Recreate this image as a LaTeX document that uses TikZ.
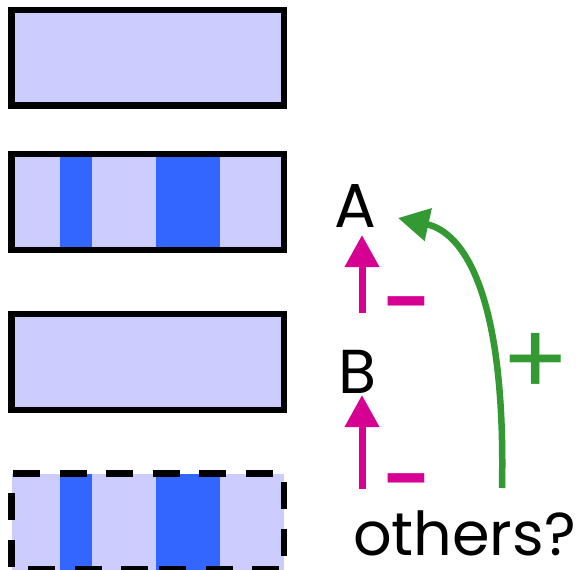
\documentclass[tikz,border=0pt]{standalone}
\usepackage{fontspec}
\setmainfont{Poppins}
\usetikzlibrary{arrows.meta}
\definecolor{lav}{RGB}{204,204,255}
\definecolor{stripecol}{RGB}{51,102,255}
\definecolor{mag}{RGB}{214,0,147}
\definecolor{grn}{RGB}{51,153,51}
\begin{document}
\begin{tikzpicture}[x=1pt,y=-1pt,
  boxnode/.style={rectangle,minimum width=272.5pt,minimum height=96pt,inner sep=0pt,outer sep=0pt,fill=lav},
  solidborder/.style={line width=6.5pt},
  dashborder/.style={line width=6.5pt,dash pattern=on 27pt off 19.5pt},
  stripefill/.style={fill=stripecol},
  lbl/.style={inner sep=0pt,outer sep=0pt,font=\fontsize{62}{62}\selectfont},
  otherslbl/.style={inner sep=0pt,outer sep=0pt,font=\fontsize{60.5}{60.5}\selectfont},
  signlbl/.style={inner sep=0pt,outer sep=0pt,font=\bfseries\fontsize{66}{66}\selectfont},
  pluslbl/.style={inner sep=0pt,outer sep=0pt,font=\fontsize{100}{100}\selectfont},
  magarrow/.style={draw=mag,line width=7pt,-{Triangle[width=33pt,length=32pt]}},
  grnarrow/.style={draw=grn,line width=6.5pt,-{Triangle[width=32pt,length=31pt]}}]
\useasboundingbox (0,0) rectangle (581,570);
% boxes
\node[boxnode,draw,solidborder,minimum height=95.5pt] (r1) at (147.75,57.75) {};
\node[boxnode] (r2) at (147.75,202) {};
\fill[stripefill] ([xshift=48.5pt]r2.north west) rectangle ([xshift=80.5pt]r2.south west);
\fill[stripefill] ([xshift=144.5pt]r2.north west) rectangle ([xshift=208.5pt]r2.south west);
\draw[solidborder] (r2.north west) rectangle (r2.south east);
\node[boxnode,draw,solidborder] (r3) at (147.75,362) {};
\node[boxnode] (r4) at (147.75,521.5) {};
\fill[stripefill] ([xshift=48.5pt]r4.north west) rectangle ([xshift=80.5pt]r4.south west);
\fill[stripefill] ([xshift=144.5pt]r4.north west) rectangle ([xshift=208.5pt]r4.south west);
\draw[dashborder,dash phase=45pt] (r4.north west) -- (r4.north east);
\draw[dashborder,dash phase=27pt] (r4.north west) -- (r4.south west);
\draw[dashborder,dash phase=38pt] (r4.north east) -- (r4.south east);
\draw[dashborder,dash phase=30pt] (r4.south west) -- (r4.south);
\draw[dashborder,dash phase=41.5pt] (r4.south east) -- (r4.south);
% labels
\node[lbl,anchor=base] (A) at (355,227) {A};
\node[lbl,anchor=base] (B) at (357,393) {B};
\node[otherslbl,anchor=base west] (O) at (353,555) {others?};
\node[signlbl,text=mag] (m1) at (406,311) {–};
\node[signlbl,text=mag] (m2) at (406,488) {–};
\node[pluslbl,text=grn] (p1) at (536,364) {+};
% arrows
\draw[magarrow] ([xshift=5pt,yshift=80pt]B.base) -- ([xshift=7pt,yshift=-8pt]A.base);
\draw[magarrow] ([xshift=9pt,yshift=66pt]O.base west) -- ([xshift=5pt,yshift=-2pt]B.base);
\draw[grnarrow] ([xshift=149pt,yshift=67pt]O.base west) .. controls (506,290) and (462,232) .. ([xshift=43pt,yshift=9pt]A.base);
\end{tikzpicture}
\end{document}
